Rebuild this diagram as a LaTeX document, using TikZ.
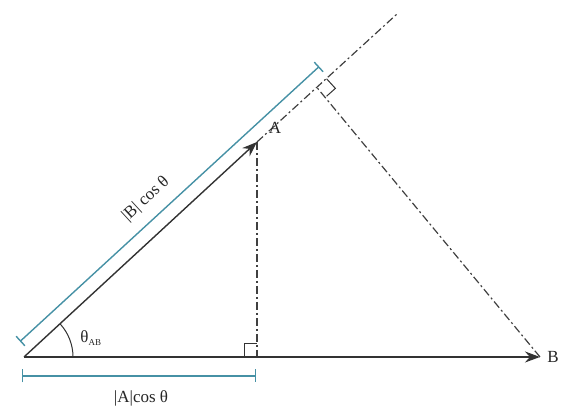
\documentclass[tikz,border=0pt]{standalone}
\usepackage{fontspec}
\setmainfont{Liberation Serif}
\usepackage{tikz}
\usetikzlibrary{arrows.meta}
\definecolor{tealbar}{RGB}{70,145,165}

\begin{document}
\begin{tikzpicture}[x=1pt,y=1pt,
  vec/.style={black!80, line width=1.4pt, -{Stealth[length=15pt,width=11pt]}},
  guide/.style={black!75, line width=1.2pt, dash pattern=on 8pt off 3pt on 2pt off 3pt},
  bracket/.style={tealbar, line width=1.4pt, {Bar[width=13pt]}-{Bar[width=13pt]}},
  lbl/.style={font=\fontsize{17}{20}\selectfont, text=black!85, inner sep=1pt}]
\useasboundingbox (0,0) rectangle (574,411);
\coordinate (O) at (24,54);
\coordinate (A) at (257,269);
\coordinate (B) at (540,54);
\coordinate (F) at (257,54);
\coordinate (P) at (317,323.4);
\coordinate (T) at (397,397);
\coordinate (b1) at (20,69.5);
\coordinate (b2) at (319.2,344.5);
\coordinate (c1) at (22,35);
\coordinate (c2) at (256,35);
% projections
\draw[guide] (A) -- (T);
\draw[guide] (A) -- (F);
\draw[guide] (B) -- (P);
% right angles
\draw[black!80, line width=1pt] (244,54) -- (244,67) -- (257,67);
\draw[black!80, line width=1pt] (326.6,332.2) -- (335.4,322.6) -- (326.6,314.8);
% vectors
\draw[vec] (O) -- (A);
\draw[vec] (O) -- (B);
\draw[black!80, line width=1pt] (73,54) arc (0:42.6:49);
% brackets
\draw[bracket] (b1) -- (b2);
\draw[bracket] (c1) -- (c2);
\node[lbl] (labA) at (275,283) {A};
\node[lbl] (labB) at (553,54) {B};
\node[lbl] (theta) at (91,73) {θ\textsubscript{\fontsize{9}{10}\selectfont AB}};
\node[lbl, rotate=42.6] (lenB) at (146,212) {|B| cos θ};
\node[lbl] (lenA) at (141,13) {|A|cos θ};
\end{tikzpicture}
\end{document}
